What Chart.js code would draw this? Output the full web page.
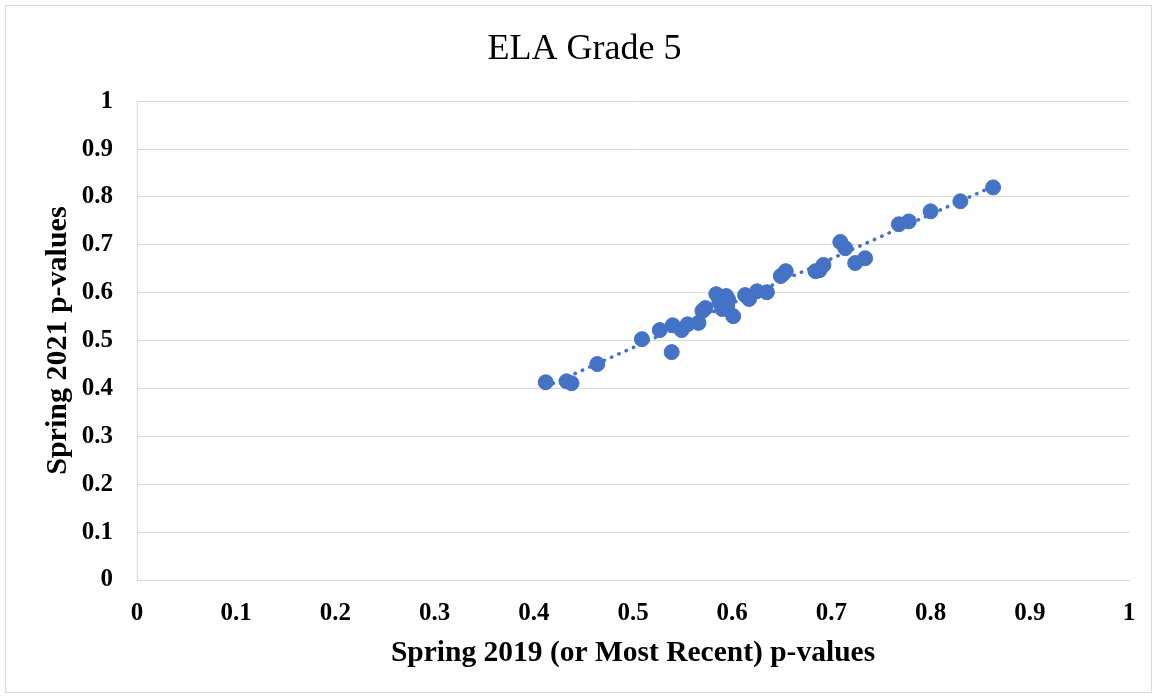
<!DOCTYPE html>
<html>
<head>
<meta charset="utf-8">
<script src="https://cdn.jsdelivr.net/npm/chart.js@4.4.1/dist/chart.umd.min.js"></script>
<style>
  html, body { margin: 0; padding: 0; background: #fff; }
  #frame { position: absolute; left: 5px; top: 5px; width: 1145px; height: 686px; border: 1px solid #d9d9d9; }
  #wrap { position: absolute; left: 0; top: 0; width: 1157px; height: 698px; }
</style>
</head>
<body>
<div id="frame"></div>
<div id="wrap"><canvas id="c" width="1157" height="698"></canvas></div>
<script>
const chartTitle = "ELA Grade 5";
const xAxisTitle = "Spring 2019 (or Most Recent) p-values";
const yAxisTitle = "Spring 2021 p-values";
const tickValues = [0, 0.1, 0.2, 0.3, 0.4, 0.5, 0.6, 0.7, 0.8, 0.9, 1];

const spring2019 = [0.412, 0.433, 0.438, 0.464, 0.509, 0.527, 0.539, 0.540, 0.549, 0.555,
  0.566, 0.570, 0.573, 0.584, 0.587, 0.590, 0.594, 0.596, 0.595, 0.601,
  0.613, 0.617, 0.625, 0.635, 0.649, 0.654, 0.684, 0.688, 0.692, 0.709,
  0.714, 0.724, 0.734, 0.768, 0.778, 0.800, 0.830, 0.863];
const spring2021 = [0.413, 0.415, 0.411, 0.451, 0.503, 0.522, 0.476, 0.532, 0.522, 0.534,
  0.537, 0.562, 0.568, 0.597, 0.580, 0.566, 0.593, 0.585, 0.572, 0.551,
  0.595, 0.587, 0.603, 0.601, 0.635, 0.645, 0.645, 0.647, 0.658, 0.706,
  0.693, 0.662, 0.672, 0.743, 0.749, 0.770, 0.791, 0.820];

const points = spring2019.map((x, i) => ({ x: x, y: spring2021[i] }));

// linear trendline (least squares) from the data
const n = spring2019.length;
const mx = spring2019.reduce((a, b) => a + b, 0) / n;
const my = spring2021.reduce((a, b) => a + b, 0) / n;
let sxy = 0, sxx = 0;
for (let i = 0; i < n; i++) { sxy += (spring2019[i] - mx) * (spring2021[i] - my); sxx += (spring2019[i] - mx) ** 2; }
const slope = sxy / sxx, intercept = my - slope * mx;
const xmin = Math.min(...spring2019), xmax = Math.max(...spring2019);
const trend = [{ x: xmin, y: intercept + slope * xmin }, { x: xmax, y: intercept + slope * xmax }];

const blue = '#4472C4';
const grid = '#d9d9d9';
const serif = "'Liberation Serif', 'Times New Roman', serif";

new Chart(document.getElementById('c'), {
  type: 'scatter',
  data: {
    datasets: [
      { label: 'p-values', data: points, backgroundColor: blue, borderColor: blue, pointRadius: 7.5, pointHoverRadius: 7.5, order: 1 },
      { label: 'Trend', type: 'line', data: trend, showLine: true, borderColor: blue, borderWidth: 3.5,
        borderDash: [0.5, 7.5], borderCapStyle: 'round', pointRadius: 0, fill: false, order: 2 }
    ]
  },
  options: {
    responsive: false,
    animation: false,
    layout: { padding: { left: 40, right: 28, top: 0, bottom: 0 } },
    plugins: {
      legend: { display: false },
      tooltip: { enabled: false },
      title: { display: true, text: chartTitle, color: '#000',
        font: { family: serif, size: 36, weight: 'normal', lineHeight: 1.2 },
        padding: { top: 28, bottom: 30 } }
    },
    scales: {
      x: {
        type: 'linear', min: 0, max: 1,
        afterBuildTicks: s => { s.ticks = tickValues.map(v => ({ value: v })); },
        afterFit: s => { s.height = 118; },
        grid: { display: false, drawTicks: false },
        border: { display: true, color: grid, width: 1 },
        ticks: { color: '#000', padding: 19, font: { family: serif, size: 25, weight: 'bold' }, maxRotation: 0,
          callback: v => String(v) },
        title: { display: true, text: xAxisTitle, color: '#000', font: { family: serif, size: 29.5, weight: 'bold', lineHeight: 1.2 },
          padding: { top: 0, bottom: 27 } }
      },
      y: {
        type: 'linear', min: 0, max: 1,
        afterBuildTicks: s => { s.ticks = tickValues.map(v => ({ value: v })); },
        afterFit: s => { s.width = 97; },
        grid: { color: grid, lineWidth: 1, drawTicks: false },
        border: { display: true, color: grid, width: 1 },
        ticks: { color: '#000', padding: 24, font: { family: serif, size: 25, weight: 'bold' },
          callback: v => String(v) },
        title: { display: true, text: yAxisTitle, color: '#000', font: { family: serif, size: 30, weight: 'bold', lineHeight: 1.2 },
          padding: { top: 0, bottom: 0 } }
      }
    }
  }
});
</script>
</body>
</html>
